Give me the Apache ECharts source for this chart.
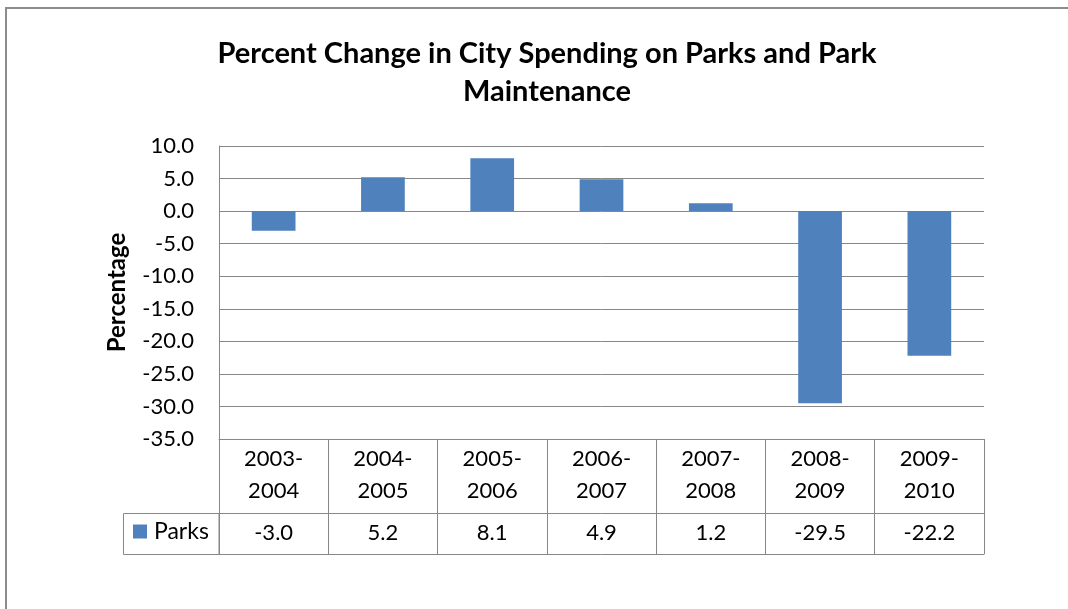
<!DOCTYPE html>
<html>
<head>
<meta charset="utf-8">
<script src="https://cdn.jsdelivr.net/npm/echarts@6/dist/echarts.min.js"></script>
<style>
  html, body { margin: 0; padding: 0; background: #fff; }
  #chart { width: 1068px; height: 609px; }
</style>
</head>
<body>
<div id="chart"></div>
<script>
// Fiscal-year periods and the percent change in parks spending for each
const periods = ['2003-2004', '2004-2005', '2005-2006', '2006-2007', '2007-2008', '2008-2009', '2009-2010'];
const parks = [-3.0, 5.2, 8.1, 4.9, 1.2, -29.5, -22.2];
const yTicks = { min: -35, max: 10, step: 5 };

const FONT = 'Lato, "Open Sans", sans-serif';
const LINE = '#878787';
const BAR = '#4F81BD';

const chart = echarts.init(document.getElementById('chart'), null, { renderer: 'canvas' });

const tableRowA = 74;   // category row height
const tableRowB = 41;   // values row height

chart.setOption({
  animation: false,
  backgroundColor: '#fff',
  textStyle: { fontFamily: FONT },
  title: {
    text: 'Percent Change in City Spending on Parks and Park\nMaintenance',
    left: 542,
    textAlign: 'center',
    top: 30,
    textStyle: { fontFamily: FONT, fontWeight: 'bold', fontSize: 29, lineHeight: 38, color: '#000' }
  },
  legend: {
    data: ['Parks'],
    left: 133,
    top: 520,
    padding: 0,
    icon: 'rect',
    itemWidth: 14,
    itemHeight: 14,
    itemGap: 5,
    textStyle: { fontFamily: FONT, fontSize: 23, color: '#000', padding: [0, 0, 0, 2] }
  },
  grid: { left: 219, right: 84, top: 146, bottom: 170, containLabel: false },
  yAxis: {
    type: 'value',
    min: yTicks.min,
    max: yTicks.max,
    interval: yTicks.step,
    name: 'Percentage',
    nameLocation: 'middle',
    nameRotate: 90,
    nameGap: 90,
    nameTextStyle: { fontFamily: FONT, fontWeight: 'bold', fontSize: 24, color: '#000' },
    axisLine: { show: true, lineStyle: { color: LINE, width: 1 } },
    axisTick: { show: false },
    axisLabel: {
      margin: 25,
      fontSize: 22,
      color: '#000',
      fontFamily: FONT,
      formatter: v => v.toFixed(1)
    },
    splitLine: { show: true, lineStyle: { color: LINE, width: 1 } }
  },
  xAxis: [
    {
      type: 'category',
      data: periods,
      position: 'bottom',
      boundaryGap: true,
      axisLine: { show: true, onZero: false, lineStyle: { color: LINE, width: 1 } },
      axisTick: { show: true, interval: 0, length: tableRowA + tableRowB, lineStyle: { color: LINE, width: 1 } },
      axisLabel: {
        interval: 0,
        margin: 4,
        fontSize: 22,
        lineHeight: 32,
        color: '#000',
        fontFamily: FONT,
        formatter: s => s.replace('-', '-\n')
      }
    },
    {
      type: 'category',
      data: periods,
      position: 'bottom',
      offset: tableRowA,
      axisLine: { show: true, onZero: false, lineStyle: { color: LINE, width: 1 } },
      axisTick: { show: false },
      axisLabel: {
        interval: 0,
        margin: 9,
        fontSize: 22,
        color: '#000',
        fontFamily: FONT,
        formatter: (s, i) => parks[i].toFixed(1)
      }
    },
    {
      type: 'category',
      data: periods,
      position: 'bottom',
      offset: tableRowA + tableRowB,
      axisLine: { show: true, onZero: false, lineStyle: { color: LINE, width: 1 } },
      axisTick: { show: false },
      axisLabel: { show: false }
    }
  ],
  series: [
    {
      name: 'Parks',
      type: 'bar',
      xAxisIndex: 0,
      data: parks,
      barWidth: '40%',
      itemStyle: { color: BAR }
    }
  ]
});

// Outer chart frame and the legend cell of the data table
function drawFrame() {
  const x0 = chart.convertToPixel({ xAxisIndex: 0 }, periods[0]);
  const bw = chart.convertToPixel({ xAxisIndex: 0 }, periods[1]) - x0;
  const left = Math.round(x0 - bw / 2);
  const axisY = chart.convertToPixel({ yAxisIndex: 0 }, yTicks.min);
  chart.setOption({
    graphic: [
      {
        type: 'rect',
        shape: { x: 6, y: 8, width: 1200, height: 800 },
        style: { fill: 'none', stroke: '#8c8c8c', lineWidth: 2 },
        silent: true
      },
      {
        type: 'rect',
        shape: { x: 123.5, y: Math.round(axisY + tableRowA) + 0.5, width: left - 123.5, height: tableRowB },
        style: { fill: 'none', stroke: LINE, lineWidth: 1 },
        silent: true
      }
    ]
  });
}
drawFrame();
</script>
</body>
</html>
